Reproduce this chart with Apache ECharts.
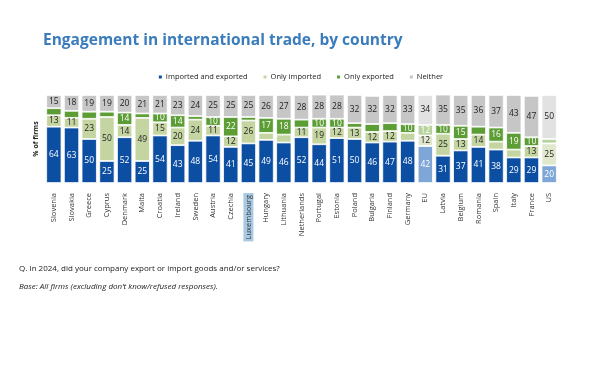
<!DOCTYPE html>
<html><head><meta charset="utf-8">
<script src="https://cdn.jsdelivr.net/npm/echarts@6/dist/echarts.min.js"></script>
<style>html,body{margin:0;padding:0;background:#fff}#c{width:600px;height:368px}</style>
</head><body><div id="c"></div>
<script>
var countries = ['Slovenia','Slovakia','Greece','Cyprus','Denmark','Malta','Croatia','Ireland','Sweden','Austria','Czechia','Luxembourg','Hungary','Lithuania','Netherlands','Portugal','Estonia','Poland','Bulgaria','Finland','Germany','EU','Latvia','Belgium','Romania','Spain','Italy','France','US'];
var importedExported = [64,63,50,25,52,25,54,43,48,54,41,45,49,46,52,44,51,50,46,47,48,42,31,37,41,38,29,29,20];
var onlyImported     = [13,11,23,50,14,49,15,20,24,11,12,26,8,9,11,19,12,13,12,12,9,12,25,13,14,9,9,13,25];
var onlyExported     = [8,8,8,6,14,5,10,14,4,10,22,4,17,18,9,10,10,5,9,9,10,12,10,15,9,16,19,10,5];
var neither          = [15,18,19,19,20,21,21,23,24,25,25,25,26,27,28,28,28,32,32,32,33,34,35,35,36,37,43,47,50];

var seriesDefs = [
  {name:'Imported and exported', data:importedExported, color:'#0b4ea2', light:'#7ea7d8', text:'#ffffff', ltext:'#ffffff'},
  {name:'Only imported', data:onlyImported, color:'#c4d5a2', light:'#dfe8cc', text:'#222222', ltext:'#222222'},
  {name:'Only exported', data:onlyExported, color:'#5d9d35', light:'#b6d39d', text:'#ffffff', ltext:'#ffffff'},
  {name:'Neither', data:neither, color:'#c6c6c6', light:'#e2e2e2', text:'#222222', ltext:'#222222'}
];
var lightSet = {'EU':1,'US':1};

var series = seriesDefs.map(function(s){
  return {
    name: s.name, type:'bar', stack:'a', barCategoryGap:'14%',
    itemStyle:{color:s.color, borderColor:'#ffffff', borderWidth:0.8},
    label:{show:true, position:'inside', fontSize:8.5, fontFamily:'Open Sans', color:s.text,
      formatter:function(p){ return p.value>=10 ? p.value : ''; }},
    data: s.data.map(function(v,i){
      var it = {value:v};
      if (lightSet[countries[i]]) { it.itemStyle = {color:s.light}; it.label = {color:s.ltext}; }
      return it;
    })
  };
});

var chart = echarts.init(document.getElementById('c'), null, {renderer:'canvas'});
chart.setOption({
  animation:false,
  title:[
    {text:'Engagement in international trade, by country', left:38, top:28,
     textStyle:{fontFamily:'Open Sans', fontWeight:'bold', fontSize:15.5, color:'#3b7cbc'}},
    {text:'Q. In 2024, did your company export or import goods and/or services?', left:19, top:265, padding:0,
     textStyle:{fontFamily:'Open Sans', fontWeight:'normal', fontSize:8, color:'#222'}},
    {text:'Base: All firms (excluding don\u2019t know/refused responses).', left:19, top:283, padding:0,
     textStyle:{fontFamily:'Open Sans', fontWeight:'normal', fontStyle:'italic', fontSize:8, color:'#222'}}
  ],
  legend:{top:68, left:'center', itemWidth:5, itemHeight:5, itemGap:14, icon:'rect',
    textStyle:{fontFamily:'Open Sans', fontSize:7.5, color:'#222', padding:[0,0,0,-2]},
    data:seriesDefs.map(function(s){return s.name;})},
  grid:{left:45, right:42, top:95, bottom:185},
  xAxis:{type:'category', data:countries, axisLine:{show:false}, axisTick:{show:false},
    axisLabel:{rotate:90, interval:0, margin:10, fontFamily:'Open Sans', fontSize:7.5, color:'#333',
      formatter:function(v){ return v==='Luxembourg' ? '{hl|'+v+'}' : v; },
      rich:{hl:{backgroundColor:'#a9c9e3', padding:[1,2,1,2], fontFamily:'Open Sans', fontSize:7.5, color:'#333'}}}},
  yAxis:{type:'value', min:0, max:100, axisLine:{show:false}, axisTick:{show:false}, axisLabel:{show:false},
    splitLine:{show:false}, name:'% of firms', nameLocation:'middle', nameRotate:90, nameGap:6,
    nameTextStyle:{fontFamily:'Open Sans', fontSize:7, color:'#222', fontWeight:'bold'}},
  series:series
});
</script></body></html>
